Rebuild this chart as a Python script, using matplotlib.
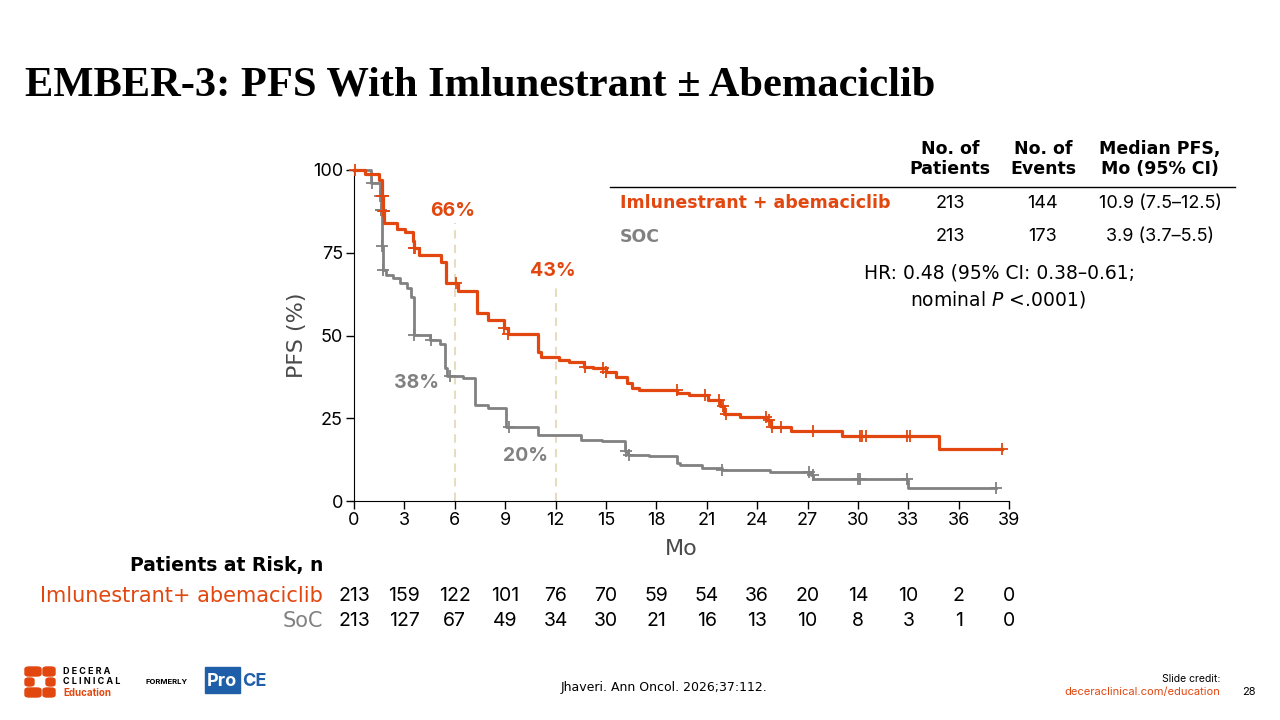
import matplotlib
matplotlib.use("Agg")
import matplotlib.pyplot as plt
import numpy as np
from matplotlib.patches import Rectangle, FancyBboxPatch

ORANGE = "#E2470F"
GREY = "#818181"
DASH = "#E6DCC0"
W, H = 1280, 720
WORD = ["DejaVu Sans"]          # wide letterforms for words
NUM = ["Inter", "DejaVu Sans"]  # narrower digits

# Kaplan-Meier steps (month, PFS % after the step)
imlu_t = [0, 0.65, 1.5, 1.65, 1.72, 1.8, 2.55, 3.05, 3.5, 3.55, 3.85, 5.2, 5.45, 6.2,
          7.3, 7.95, 8.95, 9.15, 10.95, 11.15, 12.2, 12.8, 13.7, 14.2, 14.98, 15.57,
          16.26, 16.56, 16.95, 19.22, 19.92, 21.1, 21.8, 22.0, 22.98, 24.6, 24.82,
          26.0, 29.05, 34.8]
imlu_s = [100, 98.8, 97.0, 92.0, 87.5, 83.9, 82.3, 81.3, 78.5, 76.3, 74.3, 72.3, 65.9, 63.5,
          56.7, 54.8, 52.2, 50.4, 45.1, 43.6, 42.6, 41.9, 40.6, 40.1, 39.1, 37.4,
          35.6, 34.1, 33.4, 32.6, 32.0, 30.5, 28.8, 26.3, 25.5, 24.4, 22.3,
          21.1, 19.6, 15.7]
imlu_end = 38.6
imlu_cens = [0.05, 1.68, 1.7, 1.75, 1.78, 3.6, 3.65, 6.1, 8.95, 9.15, 13.75, 14.8, 15.0,
             19.2, 20.9, 21.75, 21.95, 22.15, 24.55, 24.7, 24.9, 25.4, 27.3, 30.1,
             30.25, 30.45, 32.9, 33.1, 38.6]

soc_t = [0, 1.0, 1.55, 1.6, 1.65, 1.7, 1.92, 2.33, 2.73, 3.13, 3.42, 3.55, 4.5, 5.1,
         5.4, 5.55, 6.48, 7.23, 7.96, 9.05, 10.93, 13.5, 14.78, 16.13, 16.3, 17.55,
         19.22, 19.4, 20.7, 21.88, 24.75, 27.2, 27.35, 33.0]
soc_s = [100, 96.0, 92.0, 88.0, 77.0, 69.8, 68.3, 67.5, 66.0, 64.5, 61.5, 50.2, 48.6, 47.3,
         40.1, 37.8, 37.1, 29.0, 28.0, 22.4, 19.9, 18.4, 18.2, 15.1, 14.0, 13.5,
         11.5, 10.8, 10.0, 9.3, 8.7, 7.8, 6.6, 3.8]
soc_end = 38.2
soc_cens = [1.05, 1.56, 1.6, 1.63, 1.66, 1.7, 3.6, 4.6, 5.7, 9.2, 16.2, 16.35, 21.9,
            27.1, 27.3, 30.0, 30.1, 32.9, 38.2]

risk_months = list(range(0, 40, 3))
imlu_risk = [213, 159, 122, 101, 76, 70, 59, 54, 36, 20, 14, 10, 2, 0]
soc_risk = [213, 127, 67, 49, 34, 30, 21, 16, 13, 10, 8, 3, 1, 0]

plt.rcParams["font.family"] = NUM

fig = plt.figure(figsize=(12.8, 7.2), dpi=100)


def fx(px):
    return px / W


def fy(py):
    return 1 - py / H


ax = fig.add_axes([fx(354), fy(501), fx(1009.2) - fx(354), fy(170) - fy(501)])
ax.set_xlim(0, 39)
ax.set_ylim(0, 100)
for s in ["top", "right"]:
    ax.spines[s].set_visible(False)
ax.set_xticks(risk_months)
ax.set_yticks([0, 25, 50, 75, 100])
ax.tick_params(labelsize=13, length=6, width=1, pad=2)
ax.set_ylabel("PFS (%)", fontsize=16, color="#4a4a4a", labelpad=4, family=WORD)
ax.set_xlabel("Mo", fontsize=16, color="#4a4a4a", labelpad=7, family=WORD)


def km(ax, t, s, end, cens, color, lw):
    tt = list(t) + [end]
    ss = list(s) + [s[-1]]
    ax.step(tt, ss, where="post", color=color, lw=lw, clip_on=False, zorder=3)
    idx = np.searchsorted(t, cens, side="right") - 1
    cy = [s[i] for i in idx]
    ax.plot(cens, cy, ls="none", marker="+", ms=8, mew=1.3, color=color,
            clip_on=False, zorder=4)


km(ax, soc_t, soc_s, soc_end, soc_cens, GREY, 2.0)
km(ax, imlu_t, imlu_s, imlu_end, imlu_cens, ORANGE, 2.3)

# landmark guides
ax.plot([6, 6], [0, 84], ls=(0, (4, 3)), color=DASH, lw=1.5, zorder=2)
ax.plot([12, 12], [0, 65], ls=(0, (4, 3)), color=DASH, lw=1.5, zorder=2)
ax.text(5.9, 87.5, "66%", color=ORANGE, fontsize=14, fontweight="bold", ha="center", va="center")
ax.text(11.85, 69.5, "43%", color=ORANGE, fontsize=14, fontweight="bold", ha="center", va="center")
ax.text(3.7, 35.5, "38%", color=GREY, fontsize=14, fontweight="bold", ha="center", va="center")
ax.text(10.2, 13.7, "20%", color=GREY, fontsize=14, fontweight="bold", ha="center", va="center")

# title
fig.text(fx(25), fy(85), "EMBER-3: PFS With Imlunestrant \u00b1 Abemaciclib",
         family="Liberation Serif", fontweight="bold", fontsize=30.6, va="center", ha="left")

# summary table
cols = [950, 1043, 1160]
heads = ["No. of\nPatients", "No. of\nEvents", "Median PFS,\nMo (95% CI)"]
for c, h in zip(cols, heads):
    fig.text(fx(c), fy(159), h, fontsize=12.5, fontweight="bold", ha="center", va="center",
             linespacing=1.2, family=WORD)
fig.add_artist(plt.Line2D([fx(610), fx(1235)], [fy(187), fy(187)], color="black", lw=1))
rows = [("Imlunestrant + abemaciclib", ORANGE, ["213", "144", "10.9 (7.5\u201312.5)"], 203),
        ("SOC", GREY, ["213", "173", "3.9 (3.7\u20135.5)"], 237)]
for name, col, vals, y in rows:
    fig.text(fx(620), fy(y), name, color=col, fontsize=12.5, fontweight="bold", va="center",
             family=WORD)
    for c, v in zip(cols, vals):
        fig.text(fx(c), fy(y), v, fontsize=13, ha="center", va="center")
fig.text(fx(864), fy(273), "HR: 0.48 (95% CI: 0.38\u20130.61;", fontsize=13.5, va="center",
         family=WORD)
fig.text(fx(910), fy(299), "nominal $\\it{P}$ <.0001)", fontsize=13.5, va="center",
         family=WORD)

# patients at risk
fig.text(fx(323), fy(566), "Patients at Risk, n", fontsize=13.5, fontweight="bold",
         ha="right", va="center", family=WORD)
fig.text(fx(323), fy(596), "Imlunestrant+ abemaciclib", fontsize=15, color=ORANGE,
         ha="right", va="center", family=WORD)
fig.text(fx(323), fy(621), "SoC", fontsize=15, color=GREY, ha="right", va="center",
         family=WORD)
for m, a, b in zip(risk_months, imlu_risk, soc_risk):
    xp = ax.transData.transform((m, 0))[0] / fig.dpi / 12.8
    fig.text(xp, fy(596), str(a), fontsize=14, ha="center", va="center")
    fig.text(xp, fy(621), str(b), fontsize=14, ha="center", va="center")

# footer
fig.text(fx(664), fy(688), "Jhaveri. Ann Oncol. 2026;37:112.", fontsize=9, ha="center",
         va="center", family=WORD)
fig.text(fx(1220), fy(679), "Slide credit:", fontsize=7.5, ha="right", va="center")
fig.text(fx(1220), fy(692), "deceraclinical.com/education", fontsize=8, color=ORANGE,
         ha="right", va="center")
fig.text(fx(1249), fy(692), "28", fontsize=8, ha="center", va="center")

# logo
for (x0, y0, w, h) in [(25, 667, 16, 9), (43, 667, 12, 9), (25, 678, 9, 8), (46, 678, 9, 8),
                       (25, 688, 16, 9), (43, 688, 12, 9)]:
    fig.add_artist(FancyBboxPatch((fx(x0), fy(y0 + h)), fx(w), h / H,
                                  boxstyle="round,pad=0,rounding_size=0.003",
                                  color=ORANGE, transform=fig.transFigure))
fig.text(fx(63), fy(671), "D E C E R A", fontsize=6.5, fontweight="bold", va="center")
fig.text(fx(63), fy(682), "C L I N I C A L", fontsize=6.5, fontweight="bold", va="center")
fig.text(fx(63), fy(693), "Education", fontsize=7, color=ORANGE, fontweight="bold", va="center")
fig.text(fx(145), fy(682), "FORMERLY", fontsize=5.5, fontweight="bold", va="center")
fig.add_artist(Rectangle((fx(205), fy(693)), fx(35), 26 / H, color="#1F5EA8",
                         transform=fig.transFigure))
fig.text(fx(222), fy(681), "Pro", fontsize=13, fontweight="bold", color="white",
         ha="center", va="center")
fig.text(fx(242), fy(681), "CE", fontsize=13, fontweight="bold", color="#1F5EA8",
         ha="left", va="center")

fig.savefig("out.png", dpi=100)
